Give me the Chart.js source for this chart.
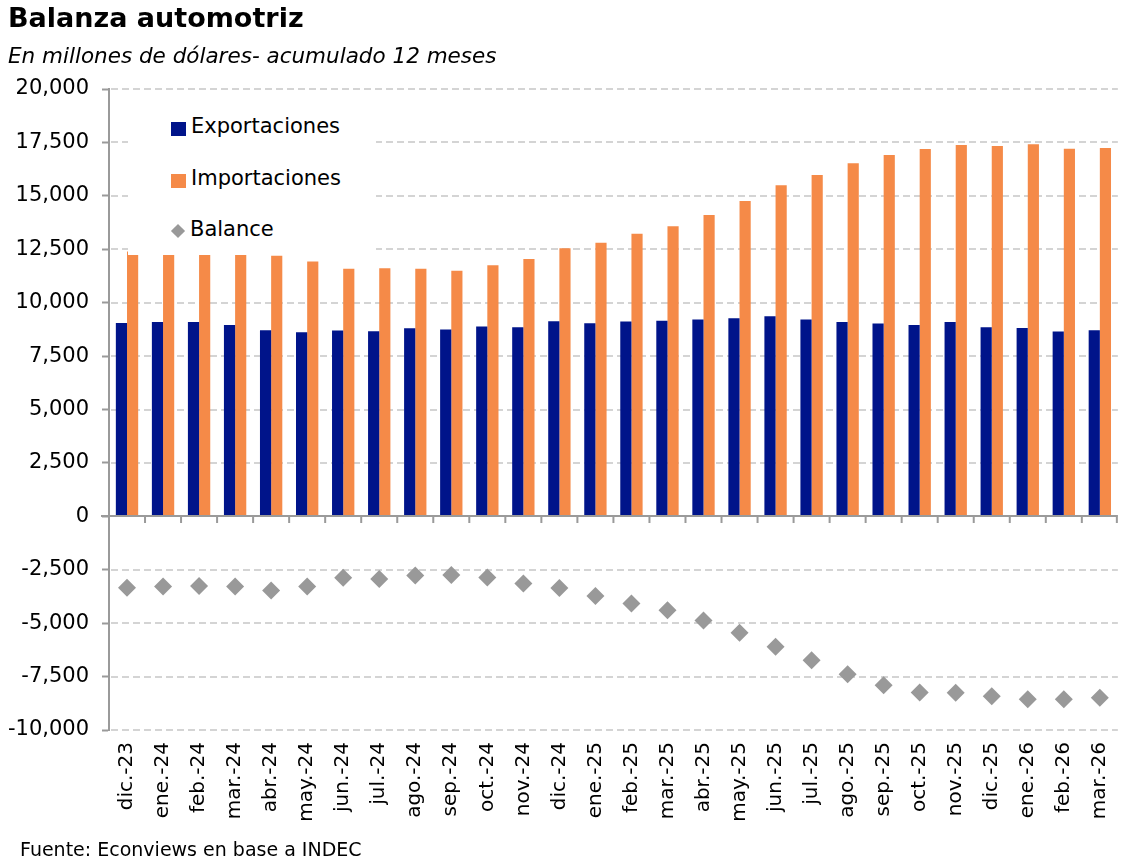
<!DOCTYPE html>
<html>
<head>
<meta charset="utf-8">
<title>Balanza automotriz</title>
<script src="https://cdn.jsdelivr.net/npm/chart.js@4.4.1/dist/chart.umd.min.js"></script>
<style>
    body { margin: 0; background: #fff; font-family: "DejaVu Sans", sans-serif; color: #000; }
    #wrap { position: relative; width: 1128px; height: 865px; overflow: hidden; }
    #resultPlot { position: absolute; left: 0; top: 0; }
    .title { position: absolute; left: 8px; top: 2px; font-size: 27px; font-weight: bold; }
    .subtitle { position: absolute; left: 8px; top: 43px; font-size: 21.5px; font-style: italic; }
    .source { position: absolute; left: 20px; top: 838px; font-size: 19px; }
    .legend { position: absolute; left: 128px; top: 100px; width: 205px; height: 141px;
        padding: 14px 0 0 43px; font-size: 21px; background: #fff; overflow: hidden; }
    .legend div { height: 51.5px; display: flex; align-items: flex-start; }
    .legend span.box { display: inline-block; width: 15px; height: 14px; margin: 8px 5px 0 0; }
    .legend span.dia { display: inline-block; width: 10px; height: 10px; margin: 9px 7px 0 2px; background: #999; transform: rotate(45deg); }
</style>
</head>
<body>
<div id="wrap">
    <canvas id="resultPlot" width="1128" height="865"></canvas>
    <div class="title">Balanza automotriz</div>
    <div class="subtitle">En millones de dólares- acumulado 12 meses</div>
    <div class="legend">
        <div><span class="box" style="background:#00148A"></span>Exportaciones</div>
        <div><span class="box" style="background:#F58A48"></span>Importaciones</div>
        <div><span class="dia"></span>Balance</div>
    </div>
    <div class="source">Fuente: Econviews en base a INDEC</div>
</div>
<script>
// chart data, millions of USD, 12-month rolling sum
const months = ['dic.-23', 'ene.-24', 'feb.-24', 'mar.-24', 'abr.-24', 'may.-24', 'jun.-24',
    'jul.-24', 'ago.-24', 'sep.-24', 'oct.-24', 'nov.-24', 'dic.-24', 'ene.-25', 'feb.-25',
    'mar.-25', 'abr.-25', 'may.-25', 'jun.-25', 'jul.-25', 'ago.-25', 'sep.-25', 'oct.-25',
    'nov.-25', 'dic.-25', 'ene.-26', 'feb.-26', 'mar.-26'];
const exportaciones = [9050, 9100, 9090, 8950, 8710, 8620, 8700, 8665, 8805, 8740, 8880, 8850,
    9130, 9040, 9120, 9150, 9210, 9270, 9370, 9210, 9100, 9025, 8950, 9090, 8850, 8820, 8650, 8710];
const importaciones = [12390, 12380, 12350, 12230, 12190, 11930, 11590, 11615, 11590, 11490, 11755, 12040,
    12550, 12800, 13225, 13580, 14100, 14755, 15490, 15970, 16520, 16910, 17190, 17380, 17330, 17410, 17200, 17240];
const balance = [-3340, -3280, -3260, -3280, -3470, -3280, -2870, -2935, -2765, -2750, -2860, -3140,
    -3355, -3730, -4075, -4400, -4870, -5450, -6105, -6730, -7385, -7900, -8245, -8260, -8415, -8555, -8555, -8495];
const yTicks = [-10000, -7500, -5000, -2500, 0, 2500, 5000, 7500, 10000, 12500, 15000, 17500, 20000];

/**
 * Dashed horizontal grid lines, drawn under the bars.
 */
const dashedGrid = {
    id: 'dashedGrid',
    beforeDatasetsDraw(chart) {
        let ctx = chart.ctx;
        let ys = chart.scales.y;
        let area = chart.chartArea;
        ctx.save();
        ctx.strokeStyle = '#d4d4d4';
        ctx.lineWidth = 2;
        ctx.setLineDash([7, 4]);
        for (let i = 0; i < yTicks.length; i++) {
            let yPos = Math.round(ys.getPixelForValue(yTicks[i]));
            ctx.beginPath();
            ctx.moveTo(area.left + 2, yPos);
            ctx.lineTo(area.right, yPos);
            ctx.stroke();
        }
        ctx.restore();
    }
};

/**
 * Draws the zero line with its category tick marks.
 */
const zeroAxis = {
    id: 'zeroAxis',
    afterDatasetsDraw(chart) {
        let ctx = chart.ctx;
        let xs = chart.scales.x;
        let y0 = Math.round(chart.scales.y.getPixelForValue(0));
        let area = chart.chartArea;
        ctx.save();
        ctx.strokeStyle = '#9a9a9a';
        ctx.lineWidth = 2;
        ctx.beginPath();
        ctx.moveTo(area.left - 8, y0);
        ctx.lineTo(area.right, y0);
        for (let i = 1; i <= months.length; i++) {
            let xPos = i < months.length
                ? (xs.getPixelForValue(i - 1) + xs.getPixelForValue(i)) / 2
                : area.right - 1;
            ctx.moveTo(xPos, y0);
            ctx.lineTo(xPos, y0 + 7);
        }
        ctx.stroke();
        ctx.restore();
    }
};

/**
 * Draw the result plot
 */
function draw() {
    let plotArea = document.getElementById('resultPlot');
    let chartObject = {};
    chartObject['type'] = 'bar';
    chartObject['data'] = {
        labels: months,
        datasets: [
            {label: 'Exportaciones', data: exportaciones, backgroundColor: '#00148A',
                categoryPercentage: 0.62, barPercentage: 1.0, order: 2},
            {label: 'Importaciones', data: importaciones, backgroundColor: '#F58A48',
                categoryPercentage: 0.62, barPercentage: 1.0, order: 2},
            {label: 'Balance', type: 'line', data: balance, showLine: false,
                pointStyle: 'rectRot', pointRadius: 9, pointHoverRadius: 9,
                pointBackgroundColor: '#999999', pointBorderWidth: 0, order: 1}
        ]
    };
    chartObject['options'] = {
        responsive: false,
        animation: false,
        layout: {padding: {top: 89, right: 8, left: 0, bottom: 0}},
        plugins: {legend: {display: false}, tooltip: {enabled: false}},
        scales: {
            x: {
                grid: {display: false},
                border: {display: false},
                ticks: {
                    color: '#000', font: {family: 'DejaVu Sans', size: 20},
                    minRotation: 90, maxRotation: 90, autoSkip: false, padding: 4
                },
                afterFit: function(scale) { scale.height = 135; }
            },
            y: {
                min: -10000,
                max: 20000,
                afterBuildTicks: function(scale) {
                    scale.ticks = yTicks.map(function(v) { return {value: v}; });
                },
                ticks: {
                    color: '#000', font: {family: 'DejaVu Sans', size: 21}, padding: 13,
                    callback: function(v) { return v.toLocaleString('en-US'); }
                },
                grid: {color: 'rgba(0,0,0,0)', tickColor: '#9a9a9a', tickLength: 7, tickWidth: 2},
                border: {display: true, color: '#9a9a9a', width: 2},
                afterFit: function(scale) { scale.width = 109; }
            }
        }
    };
    chartObject['plugins'] = [dashedGrid, zeroAxis];
    return new Chart(plotArea, chartObject);
}

draw();
</script>
</body>
</html>
